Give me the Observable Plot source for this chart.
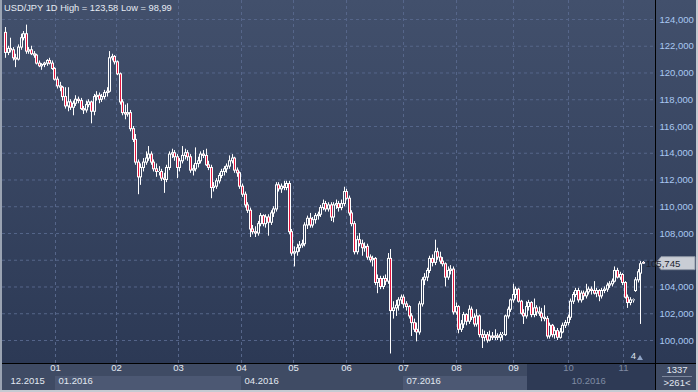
<!DOCTYPE html>
<html><head><meta charset="utf-8">
<script src="https://cdn.jsdelivr.net/npm/d3@7"></script>
<script src="https://cdn.jsdelivr.net/npm/@observablehq/plot@0.6"></script>
<style>
html,body{margin:0;padding:0;background:#2c3955;}
#wrap{position:relative;width:698px;height:392px;overflow:hidden;font-family:"Liberation Sans",Arial,sans-serif;}
#wrap svg{position:absolute;left:0;top:0;}
#title{position:absolute;left:4px;top:3px;font-size:9.3px;color:#e6ebf3;white-space:nowrap;z-index:2;}
</style></head><body>
<div id="wrap"><div id="title">USD/JPY 1D High = 123,58 Low = 98,99</div></div>
<script>
// Daily USD/JPY candles (index = trading-day slot, left to right)
const opens = [
123.0,121.5,121.8,121.7,121.1,121.0,121.9,122.6,122.9,121.6,
121.7,121.4,121.3,120.7,120.5,120.6,120.7,120.9,120.7,120.3,
119.5,119.0,118.9,118.2,117.5,117.8,117.4,117.7,118.0,117.9,
117.3,117.2,117.6,117.8,117.1,118.2,118.3,118.0,118.2,118.5,
118.6,121.1,121.2,120.8,119.9,117.8,117.0,116.9,117.0,115.8,
115.0,113.3,112.2,112.9,113.3,113.6,113.9,113.3,112.8,112.6,
112.6,112.1,112.0,112.9,113.9,114.0,113.7,112.9,113.4,113.8,
114.0,113.7,112.7,112.8,113.2,113.4,113.9,113.8,113.1,112.9,
111.4,111.5,111.9,112.3,112.6,112.8,113.0,113.4,113.6,112.7,
112.5,111.5,110.9,110.1,109.7,108.3,108.1,108.0,108.7,109.3,
108.7,109.2,108.8,109.5,109.8,111.6,111.3,111.5,111.4,111.7,
108.1,106.5,106.6,106.9,107.1,107.2,108.6,109.1,108.6,109.0,
109.3,109.4,109.9,110.2,109.8,110.1,109.2,110.1,110.2,109.9,
110.2,111.1,110.6,109.5,108.7,106.6,107.5,107.2,106.9,107.0,
106.2,106.0,106.1,104.3,104.6,104.0,104.6,104.4,106.1,102.2,
102.4,102.6,103.0,103.2,102.7,102.5,101.8,101.3,100.8,100.6,
102.7,104.5,104.7,105.2,106.1,105.8,106.6,106.2,105.9,105.7,
104.7,105.2,105.3,102.1,102.5,100.8,101.2,101.9,101.4,102.3,
101.7,101.2,101.8,100.4,100.2,100.4,100.0,100.3,100.2,100.3,
100.2,100.4,100.4,101.8,102.3,103.0,103.4,103.8,102.9,102.0,
101.8,102.5,102.8,101.9,102.4,102.1,102.0,101.7,101.6,100.3,
101.1,100.4,100.7,100.2,100.6,101.1,101.3,101.7,102.9,103.4,
103.7,103.0,103.5,103.3,103.6,103.8,103.7,103.5,103.7,103.3,
103.7,103.8,104.1,104.2,104.4,105.2,104.7,104.9,104.3,103.2,
102.8,103.0,103.7,104.5,105.0,105.8];
const highs = [
123.4,122.0,122.6,121.9,121.4,122.1,122.9,123.1,123.58,121.9,
122.0,121.6,121.4,120.9,120.7,120.8,121.0,121.1,120.9,120.4,
119.7,119.3,119.0,118.9,118.9,118.0,117.9,118.3,118.2,118.1,
117.5,117.9,118.0,117.9,118.4,118.6,118.5,118.4,118.7,118.9,
121.6,121.4,121.3,120.9,120.0,118.0,117.6,117.7,117.2,116.0,
115.4,113.5,113.2,113.6,114.1,114.5,114.1,113.5,113.2,113.0,
112.8,112.5,113.1,114.1,114.3,114.2,113.9,113.6,114.5,114.3,
114.2,113.9,113.1,114.4,113.7,114.1,114.2,114.3,113.4,113.1,
111.8,112.1,112.5,112.8,113.0,113.2,113.8,113.9,113.7,112.9,
112.6,111.7,111.1,110.3,109.9,108.6,108.5,108.9,109.5,109.4,
109.4,109.4,109.7,110.0,111.8,111.8,111.7,111.9,111.9,111.9,
108.3,107.0,107.2,107.4,107.5,108.8,109.3,109.5,109.2,109.5,
109.6,110.1,110.5,110.4,110.3,110.3,110.3,110.5,110.4,110.5,
111.46,111.3,110.8,109.7,108.9,107.8,108.0,107.5,107.3,107.2,
106.4,106.3,106.2,104.9,104.8,104.8,104.9,106.5,106.8,102.9,
103.0,103.2,103.4,103.4,102.9,102.6,102.0,101.6,101.3,102.9,
104.7,105.0,105.4,106.3,106.4,107.5,106.9,106.6,106.2,105.8,
105.5,105.6,105.5,102.8,102.6,101.5,102.1,102.0,102.6,102.5,
102.0,102.3,101.9,100.8,100.7,100.6,100.7,100.6,100.8,100.5,
100.6,100.6,101.9,102.5,103.1,104.2,104.0,103.9,103.0,102.3,
102.9,103.0,102.9,103.1,102.6,102.5,102.4,102.6,101.8,101.3,
101.2,101.0,100.9,100.9,101.3,101.5,101.9,103.1,103.6,103.9,
103.9,103.7,103.7,104.2,104.0,104.0,104.4,103.9,103.8,103.9,
104.0,104.3,104.4,104.6,105.5,105.4,105.1,105.0,104.4,103.4,
103.2,103.1,104.7,105.3,105.9,105.9];
const lows = [
121.1,121.3,121.5,120.9,120.4,120.9,121.7,122.4,121.4,121.4,
121.3,121.1,120.6,120.4,120.2,120.4,120.5,120.6,120.2,119.4,
118.8,118.6,117.9,117.3,117.1,117.2,116.8,117.5,117.7,117.2,
116.9,117.0,117.4,116.2,116.8,117.9,117.7,117.8,118.0,118.2,
118.5,120.9,120.6,119.8,117.6,116.8,116.5,116.7,115.6,114.8,
113.1,110.9,111.6,112.6,113.1,113.4,113.1,112.6,112.2,112.3,
111.9,111.0,111.8,112.7,113.6,113.4,112.1,112.6,113.2,113.5,
113.4,112.5,112.3,112.6,112.9,113.2,113.6,113.0,112.7,110.6,
111.1,111.3,111.7,112.1,112.3,112.5,112.8,113.2,112.5,112.2,
111.3,110.7,109.9,109.5,107.7,107.9,107.7,107.8,108.5,108.5,
108.4,107.8,108.6,109.2,109.6,111.1,111.0,111.2,111.2,107.9,
106.3,105.5,106.3,106.6,106.9,107.0,108.3,108.4,108.4,108.7,
109.0,109.2,109.7,109.6,109.6,108.9,108.8,109.8,109.6,109.7,
110.0,110.5,109.3,108.5,106.4,106.4,107.0,106.3,106.6,106.0,
105.8,105.5,104.1,103.5,103.8,103.8,104.1,104.2,98.99,101.6,
101.8,102.2,102.7,102.4,102.2,101.6,100.3,100.6,99.9,100.4,
102.5,104.1,104.4,105.0,105.5,105.6,106.0,105.7,105.5,104.0,
104.5,104.9,101.9,101.9,100.5,100.6,100.9,101.1,101.2,101.5,
101.0,101.0,100.2,99.4,99.9,99.8,99.9,100.0,100.0,100.0,
99.9,100.0,100.3,101.6,102.1,102.8,103.1,102.8,101.9,101.2,
101.6,102.2,101.7,101.7,101.8,101.8,101.4,101.4,100.1,100.1,
100.2,100.1,100.0,100.1,100.5,100.9,101.1,101.5,102.7,103.2,
102.8,102.8,103.0,103.1,103.4,103.4,103.4,103.2,102.9,103.1,
103.5,103.6,103.9,104.0,104.3,104.6,104.5,104.1,103.1,102.4,
102.6,102.8,103.6,104.3,101.2,105.7];
const closes = [
121.5,121.8,121.7,121.1,121.0,121.9,122.6,122.9,121.6,121.7,
121.4,121.3,120.7,120.5,120.6,120.7,120.9,120.7,120.3,119.5,
119.0,118.9,118.2,117.5,117.8,117.4,117.7,118.0,117.9,117.3,
117.2,117.6,117.8,117.1,118.2,118.3,118.0,118.2,118.5,118.6,
121.1,121.2,120.8,119.9,117.8,117.0,116.9,117.0,115.8,115.0,
113.3,112.2,112.9,113.3,113.6,113.9,113.3,112.8,112.6,112.6,
112.1,112.0,112.9,113.9,114.0,113.7,112.9,113.4,113.8,114.0,
113.7,112.7,112.8,113.2,113.4,113.9,113.8,113.1,112.9,111.4,
111.5,111.9,112.3,112.6,112.8,113.0,113.4,113.6,112.7,112.5,
111.5,110.9,110.1,109.7,108.3,108.1,108.0,108.7,109.3,108.7,
109.2,108.8,109.5,109.8,111.6,111.3,111.5,111.4,111.7,108.1,
106.5,106.6,106.9,107.1,107.2,108.6,109.1,108.6,109.0,109.3,
109.4,109.9,110.2,109.8,110.1,109.2,110.1,110.2,109.9,110.2,
111.1,110.6,109.5,108.7,106.6,107.5,107.2,106.9,107.0,106.2,
106.0,106.1,104.3,104.6,104.0,104.6,104.4,106.1,102.2,102.4,
102.6,103.0,103.2,102.7,102.5,101.8,101.3,100.8,100.6,102.7,
104.5,104.7,105.2,106.1,105.8,106.6,106.2,105.9,105.7,104.7,
105.2,105.3,102.1,102.5,100.8,101.2,101.9,101.4,102.3,101.7,
101.2,101.8,100.4,100.2,100.4,100.0,100.3,100.2,100.3,100.2,
100.4,100.4,101.8,102.3,103.0,103.4,103.8,102.9,102.0,101.8,
102.5,102.8,101.9,102.4,102.1,102.0,101.7,101.6,100.3,101.1,
100.4,100.7,100.2,100.6,101.1,101.3,101.7,102.9,103.4,103.7,
103.0,103.5,103.3,103.6,103.8,103.7,103.5,103.7,103.3,103.7,
103.8,104.1,104.2,104.4,105.2,104.7,104.9,104.3,103.2,102.8,
103.0,103.0,104.5,105.1,105.7,105.745];

const yTicks = [100,102,104,106,108,110,112,114,116,118,120,122,124];
const monthIdx = [19.2,42.6,66.4,90.6,110.6,131.0,152.8,173.2,195.1,216.2,237.3];
const monthLabels = ["01","02","03","04","05","06","07","08","09","10","11"];
const periodIdx = [0.8,19.2,90.6,152.8,216.2];
const periodLabels = ["12.2015","01.2016","04.2016","07.2016","10.2016"];
const quarterBands = [[19.2,90.6],[152.8,216.2]];
const overlayStart = 200.5;
const lastPrice = 105.745;
const markerIdx = 241;
const counterTop = "1337", counterBottom = ">261<";

const RED = "#e3163e", WHITE = "#ffffff", GRID = "#56668a";
const BRIGHT = "#e2e8f1", DIM = "#7f8ba3";
const fmt = v => d3.format(".3f")(v).replace(".", ",");

const candles = closes.map((c, i) => ({i, open: opens[i], high: highs[i], low: lows[i], close: c}));
const upC = candles.filter(d => d.close >= d.open);
const downC = candles.filter(d => d.close < d.open);
const bodyTop = d => Math.max(d.open, d.close), bodyBot = d => Math.min(d.open, d.close);
const months = monthIdx.map((v, k) => ({i: v, label: monthLabels[k]}));
const periods = periodIdx.map((v, k) => ({i: v, label: periodLabels[k]}));

const chart = Plot.plot({
  width: 698, height: 392,
  marginLeft: 2, marginRight: 43, marginTop: 0, marginBottom: 29,
  x: {domain: [-1.152, 249.6], round: true, axis: null},
  y: {domain: [98.28, 125.42], axis: null},
  style: {background: "none", fontFamily: "'Liberation Sans', Arial, sans-serif", fontSize: "9.5px", overflow: "visible"},
  marks: [
    Plot.ruleY(yTicks, {y: d => d, stroke: GRID, strokeDasharray: "3,3"}),
    Plot.ruleX(monthIdx, {x: d => d, stroke: GRID, strokeDasharray: "3,3"}),
    Plot.ruleX(candles, {x: "i", y1: "high", y2: bodyTop, stroke: WHITE}),
    Plot.ruleX(candles, {x: "i", y1: bodyBot, y2: "low", stroke: WHITE}),
    Plot.ruleX(candles, {x: "i", y1: bodyTop, y2: bodyBot, stroke: WHITE, strokeWidth: 3, insetTop: -0.5, insetBottom: -0.5}),
    Plot.ruleX(downC, {x: "i", y1: bodyTop, y2: bodyBot, stroke: RED, strokeWidth: 1, insetTop: 0.5, insetBottom: 0.5}),
    Plot.ruleX(upC, {x: "i", y1: bodyTop, y2: bodyBot, stroke: "url(#bgGrad)", strokeWidth: 1, insetTop: 0.5, insetBottom: 0.5}),
    Plot.text(yTicks, {y: d => d, frameAnchor: "right", dx: 4, textAnchor: "start", text: fmt, fill: "#a9c8f2"}),
    Plot.text(months.filter(d => d.i < overlayStart), {x: "i", text: "label", frameAnchor: "bottom", dy: 7, fill: BRIGHT}),
    Plot.text(months.filter(d => d.i >= overlayStart), {x: "i", text: "label", frameAnchor: "bottom", dy: 7, fill: DIM}),
    Plot.text(periods.filter(d => d.i < overlayStart), {x: "i", text: "label", frameAnchor: "bottom", dy: 20, dx: 3, textAnchor: "start", fill: BRIGHT}),
    Plot.text(periods.filter(d => d.i >= overlayStart), {x: "i", text: "label", frameAnchor: "bottom", dy: 20, dx: 3, textAnchor: "start", fill: DIM}),
    Plot.text([markerIdx], {x: d => d, text: () => "4", frameAnchor: "bottom", dy: -5, fill: "#dde4ee"})
  ]
});
document.getElementById("wrap").appendChild(chart);

// backgrounds and chrome
const svg = d3.select(chart);
const X = v => chart.scale("x").apply(v);
const Y = v => chart.scale("y").apply(v);
const defs = svg.append("defs");
const lg = defs.append("linearGradient").attr("id", "bgGrad").attr("gradientUnits", "userSpaceOnUse")
  .attr("x1", 0).attr("y1", 0).attr("x2", 0).attr("y2", 363);
lg.append("stop").attr("offset", 0).attr("stop-color", "#42506c");
lg.append("stop").attr("offset", 1).attr("stop-color", "#2c3955");
const bgL = svg.insert("g", ":first-child");
bgL.append("rect").attr("x", 0).attr("y", 0).attr("width", 698).attr("height", 392).attr("fill", "url(#bgGrad)");
bgL.append("rect").attr("x", 0).attr("y", 363).attr("width", 698).attr("height", 29).attr("fill", "#3f4b64");
for (const [a, b] of quarterBands) {
  bgL.append("rect").attr("x", X(a)).attr("y", 376).attr("width", X(b) - X(a)).attr("height", 14).attr("fill", "#4c5873");
}
bgL.append("rect").attr("x", X(overlayStart)).attr("y", 364).attr("width", 655 - X(overlayStart)).attr("height", 26).attr("fill", "#2e3a55");

const fg = svg.append("g");
fg.append("line").attr("x1", 0).attr("x2", 698).attr("y1", 363.5).attr("y2", 363.5).attr("stroke", "#000");
fg.append("line").attr("x1", 655.5).attr("x2", 655.5).attr("y1", 0).attr("y2", 392).attr("stroke", "#000");
fg.append("rect").attr("x", 0).attr("y", 0).attr("width", 2).attr("height", 392).attr("fill", "#9aa3b2");
fg.append("rect").attr("x", 0).attr("y", 390).attr("width", 698).attr("height", 2).attr("fill", "#c6cad2");
fg.append("rect").attr("x", 696).attr("y", 0).attr("width", 2).attr("height", 392).attr("fill", "#c6cad2");
const mx = X(markerIdx) + 7;
fg.append("path").attr("d", `M${mx - 3},360 L${mx + 3},360 L${mx},355 Z`).attr("fill", "#8ea3c6");
const py = Y(lastPrice);
fg.append("path").attr("d", `M656,${py} L661,${py - 6.5} L695,${py - 6.5} L695,${py + 6.5} L661,${py + 6.5} Z`)
  .attr("fill", "#c9cdd5").attr("stroke", "#8c94a3");
fg.append("text").attr("x", 663).attr("y", py).attr("dy", "0.35em").attr("fill", "#1c2230")
  .attr("font-size", "9.6px").text(fmt(lastPrice));
fg.append("text").attr("x", 677).attr("y", 370).attr("dy", "0.35em").attr("text-anchor", "middle").attr("fill", BRIGHT).text(counterTop);
fg.append("line").attr("x1", 662).attr("x2", 692).attr("y1", 376.5).attr("y2", 376.5).attr("stroke", "#7d889e");
fg.append("text").attr("x", 677).attr("y", 383).attr("dy", "0.35em").attr("text-anchor", "middle").attr("fill", BRIGHT).text(counterBottom);
</script>
</body></html>
